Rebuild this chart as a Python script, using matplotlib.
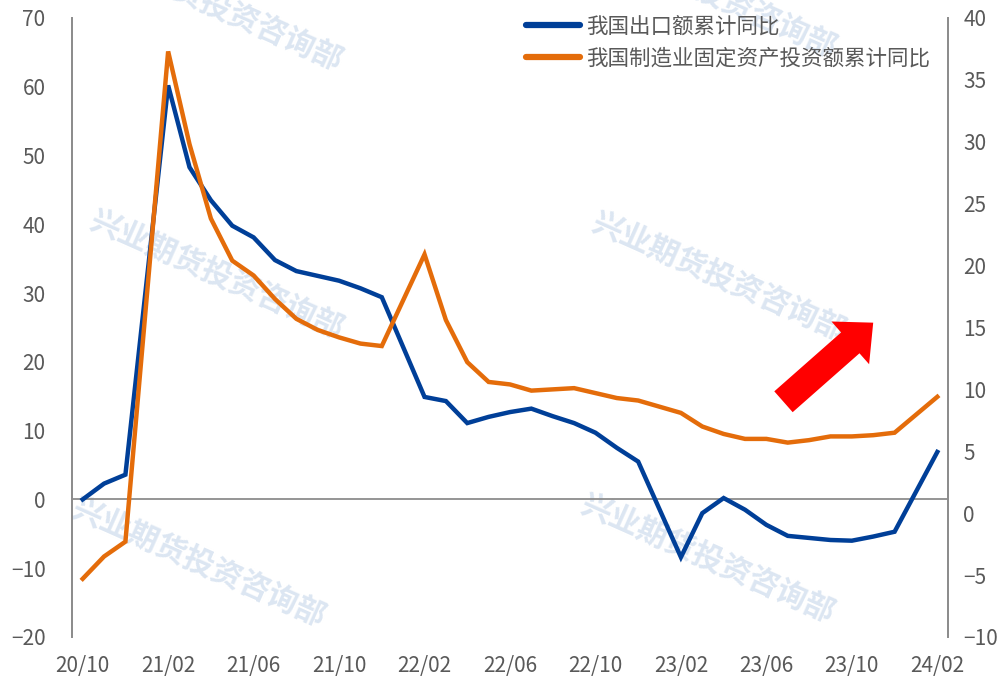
import pandas as pd
import matplotlib.pyplot as plt

plt.rcParams['font.family'] = ['Noto Sans CJK SC', 'DejaVu Sans']

# 月度数据（1月与2月合并发布，故无1月）
months = ['2020-10', '2020-11', '2020-12',
          '2021-02', '2021-03', '2021-04', '2021-05', '2021-06', '2021-07',
          '2021-08', '2021-09', '2021-10', '2021-11', '2021-12',
          '2022-02', '2022-03', '2022-04', '2022-05', '2022-06', '2022-07',
          '2022-08', '2022-09', '2022-10', '2022-11', '2022-12',
          '2023-02', '2023-03', '2023-04', '2023-05', '2023-06', '2023-07',
          '2023-08', '2023-09', '2023-10', '2023-11', '2023-12',
          '2024-02']
export_yoy = [0.0, 2.3, 3.6,
              60.2, 48.3, 43.5, 39.8, 38.1, 34.8, 33.2, 32.5, 31.8, 30.7, 29.4,
              14.9, 14.3, 11.1, 12.0, 12.7, 13.2, 12.1, 11.1, 9.7, 7.5, 5.5,
              -8.4, -2.0, 0.2, -1.5, -3.7, -5.3, -5.6, -5.9, -6.0, -5.4, -4.7,
              6.9]
mfg_fai_yoy = [-5.3, -3.5, -2.3,
               37.3, 29.8, 23.8, 20.4, 19.2, 17.3, 15.7, 14.8, 14.2, 13.7, 13.5,
               20.9, 15.6, 12.2, 10.6, 10.4, 9.9, 10.0, 10.1, 9.7, 9.3, 9.1,
               8.1, 7.0, 6.4, 6.0, 6.0, 5.7, 5.9, 6.2, 6.2, 6.3, 6.5,
               9.4]
tick_labels = ['20/10', '21/02', '21/06', '21/10', '22/02', '22/06',
               '22/10', '23/02', '23/06', '23/10', '24/02']
left_ticks = list(range(-20, 71, 10))
right_ticks = list(range(-10, 41, 5))

dates = pd.PeriodIndex(months, freq='M')
start = dates[0]
x = [(d - start).n for d in dates]
tick_pos = [(pd.Period('20' + t.replace('/', '-'), freq='M') - start).n for t in tick_labels]

blue = '#003f98'
orange = '#e46c0a'
grey_txt = '#595959'
axis_col = '#8c8c8c'

fig = plt.figure(figsize=(10.07, 6.79), dpi=100)
ax = fig.add_axes([0.0715, 0.0619, 0.8699, 0.9116])
ax2 = ax.twinx()

# 水印（放在线条下面）
wm = '兴业期货投资咨询部'
for (wx, wy) in [(0.214, 0.99), (0.705, 1.01), (0.215, 0.595), (0.713, 0.593),
                 (0.197, 0.172), (0.703, 0.178)]:
    ax.text(wx, wy, wm, fontsize=22, fontweight='bold', color='#dce6f2',
            rotation=-24, ha='center', va='center', zorder=0,
            transform=fig.transFigure, clip_on=False)

ax.axhline(0, color=axis_col, lw=1.3, zorder=1)
l1, = ax.plot(x, export_yoy, color=blue, lw=3.2, label='我国出口额累计同比',
              solid_joinstyle='miter', zorder=3)
l2, = ax2.plot(x, mfg_fai_yoy, color=orange, lw=3.2, label='我国制造业固定资产投资额累计同比',
               solid_joinstyle='miter', zorder=3)

ax.set_xlim(-0.5, x[-1] + 0.5)
ax.set_ylim(-20, 70)
ax2.set_ylim(-10, 40)
ax.set_xticks(tick_pos)
ax.set_xticklabels(tick_labels)
ax.set_yticks(left_ticks)
ax2.set_yticks(right_ticks)

for a in (ax, ax2):
    a.patch.set_visible(False)
    a.spines['top'].set_visible(False)
    a.spines['bottom'].set_visible(False)
    a.spines['left'].set_color(axis_col)
    a.spines['right'].set_color(axis_col)
    a.spines['left'].set_linewidth(1.3)
    a.spines['right'].set_linewidth(1.3)
ax.tick_params(axis='y', length=0, pad=19, labelsize=15, labelcolor=grey_txt)
ax.tick_params(axis='x', length=0, pad=13, labelsize=15, labelcolor=grey_txt)
ax2.tick_params(axis='y', length=0, pad=11, labelsize=15, labelcolor=grey_txt)

# 红色箭头
ax.annotate('', xy=(37.0, 25.7), xytext=(32.8, 14.2),
            arrowprops=dict(arrowstyle='simple,head_width=2.05,head_length=1.1,tail_width=1',
                            mutation_scale=20, color='red', lw=0,
                            shrinkA=0, shrinkB=0), zorder=4)

leg = ax2.legend(handles=[l1, l2], loc='upper right', bbox_to_anchor=(1.002, 1.035),
                 frameon=False, fontsize=15.5, handlelength=2.5, handletextpad=0.3,
                 labelspacing=0.45, labelcolor=grey_txt)
for h in leg.get_lines():
    h.set_linewidth(4.5)
    h.set_solid_capstyle('round')

fig.savefig('out.png', dpi=100)
